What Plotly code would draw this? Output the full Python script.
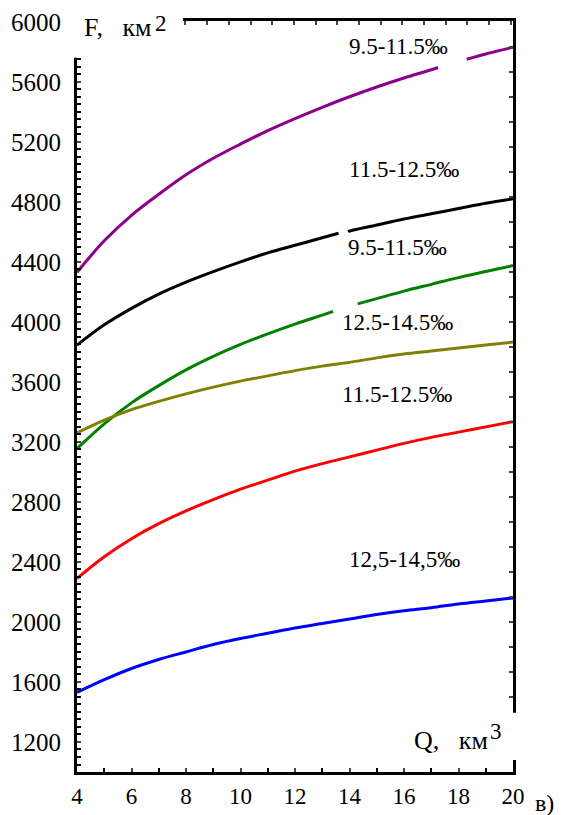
import plotly.graph_objects as go

# ---- data ----
Q_purple = [4, 5, 6, 7, 8, 9, 10, 11, 12, 13, 14, 15, 16, 17, 17.25, 17.3, 18.3, 19, 20]
F_purple = [4330, 4540, 4710, 4850, 4980, 5090, 5185, 5275, 5355, 5430, 5500, 5565, 5625, 5680, 5695, None, 5750, 5785, 5830]

Q_black = [4, 5, 6, 7, 8, 9, 10, 11, 12, 13, 13.6, 13.7, 13.95, 14, 15, 16, 17, 18, 19, 20]
F_black = [3845, 3980, 4090, 4185, 4265, 4335, 4400, 4460, 4510, 4560, 4590, None, 4600, 4605, 4645, 4685, 4720, 4755, 4790, 4820]

Q_green = [4, 5, 6, 7, 8, 9, 10, 11, 12, 13, 13.4, 13.5, 14.3, 15, 16, 17, 18, 19, 20]
F_green = [3155, 3320, 3460, 3575, 3680, 3770, 3850, 3920, 3985, 4045, 4070, None, 4120, 4155, 4205, 4250, 4295, 4335, 4375]

Q = [4, 5, 6, 7, 8, 9, 10, 11, 12, 13, 14, 15, 16, 17, 18, 19, 20]
F_olive = [3260, 3345, 3415, 3470, 3520, 3565, 3605, 3640, 3675, 3705, 3730, 3760, 3785, 3805, 3825, 3845, 3865]
F_red = [2290, 2435, 2555, 2655, 2740, 2815, 2885, 2945, 3005, 3055, 3100, 3145, 3190, 3230, 3265, 3300, 3335]
F_blue = [1530, 1615, 1690, 1750, 1800, 1850, 1890, 1925, 1960, 1990, 2020, 2050, 2075, 2095, 2120, 2140, 2160]

y_ticks = [1200, 1600, 2000, 2400, 2800, 3200, 3600, 4000, 4400, 4800, 5200, 5600, 6000]
x_ticks = [4, 6, 8, 10, 12, 14, 16, 18, 20]

labels = ["9.5-11.5‰", "11.5-12.5‰", "9.5-11.5‰", "12.5-14.5‰", "11.5-12.5‰", "12,5-14,5‰"]
label_x = [15.8, 16.0, 15.75, 15.75, 15.75, 16.0]
label_y = [5835, 5015, 4495, 3995, 3515, 2415]

FONT = "Liberation Serif"
NB = "\u00a0"

fig = go.Figure()
series = [
    (Q_purple, F_purple, "#8B008B"),
    (Q_black, F_black, "#000000"),
    (Q_green, F_green, "#008000"),
    (Q, F_olive, "#808000"),
    (Q, F_red, "#FF0000"),
    (Q, F_blue, "#0000FF"),
]
for xs, ys, c in series:
    fig.add_trace(go.Scatter(x=xs, y=ys, mode="lines", line=dict(color=c, width=3, shape="spline"),
                             connectgaps=False, showlegend=False, hoverinfo="skip"))

fig.add_trace(go.Scatter(x=[0], y=[0], xaxis="x2", yaxis="y2", mode="markers",
                         marker=dict(opacity=0), showlegend=False, hoverinfo="skip"))

for t, lx, ly in zip(labels, label_x, label_y):
    fig.add_annotation(x=lx, y=ly, text=t, showarrow=False, xref="x", yref="y",
                       font=dict(family=FONT, size=23, color="black"))

# white masks over the axes under the axis titles
fig.add_shape(type="rect", xref="paper", yref="paper", x0=-0.016, x1=0.243, y0=0.951, y1=1.02,
              fillcolor="white", line=dict(width=0), layer="above")
fig.add_shape(type="rect", xref="paper", yref="paper", x0=0.74, x1=1.02, y0=0.016, y1=0.079,
              fillcolor="white", line=dict(width=0), layer="above")

def txt(x, y, t, size, xanchor="left"):
    fig.add_annotation(x=x, y=y, xref="paper", yref="paper", xanchor=xanchor, yanchor="middle",
                       text=t, showarrow=False, font=dict(family=FONT, size=size, color="black"))

txt(0.0115, 0.991, "F," + NB * 3 + "км", 26)
txt(0.174, 0.997, "2", 23)
txt(0.948, 0.0426, "Q," + NB * 3 + "км", 26, xanchor="right")
txt(0.943, 0.054, "3", 23)
txt(1.046, -0.041, "в)", 24)

fig.update_layout(
    width=558, height=807,
    margin=dict(l=69, r=53, t=13, b=43, autoexpand=False),
    paper_bgcolor="white", plot_bgcolor="white",
    xaxis=dict(range=[4, 20], tickvals=x_ticks, ticks="inside", ticklen=4, tickwidth=2, automargin=False,
               minor=dict(dtick=1, tick0=4, ticks="inside", ticklen=4, tickwidth=2, tickcolor="black"),
               showline=True, linewidth=3, linecolor="black", showgrid=False, zeroline=False,
               tickfont=dict(family=FONT, size=23, color="black"), ticklabelstandoff=1),
    yaxis=dict(range=[1000, 6005], tickvals=y_ticks, ticks="inside", ticklen=4, tickwidth=2, automargin=False,
               minor=dict(dtick=50, tick0=1000, ticks="inside", ticklen=4, tickwidth=2, tickcolor="black"),
               showline=True, linewidth=3, linecolor="black", showgrid=False, zeroline=False,
               tickfont=dict(family=FONT, size=25, color="black"), ticklabelstandoff=8),
    xaxis2=dict(overlaying="x", side="top", range=[0, 20.1], dtick=1, tick0=0, ticks="inside", automargin=False,
                ticklen=4, tickwidth=2, showticklabels=False, showline=True, linewidth=3,
                linecolor="black", showgrid=False, zeroline=False),
    yaxis2=dict(overlaying="y", side="right", range=[0, 30.04], dtick=1, tick0=0, ticks="inside", automargin=False,
                ticklen=4, tickwidth=2, showticklabels=False, showline=True, linewidth=3,
                linecolor="black", showgrid=False, zeroline=False),
)

fig.write_html("out.html")
